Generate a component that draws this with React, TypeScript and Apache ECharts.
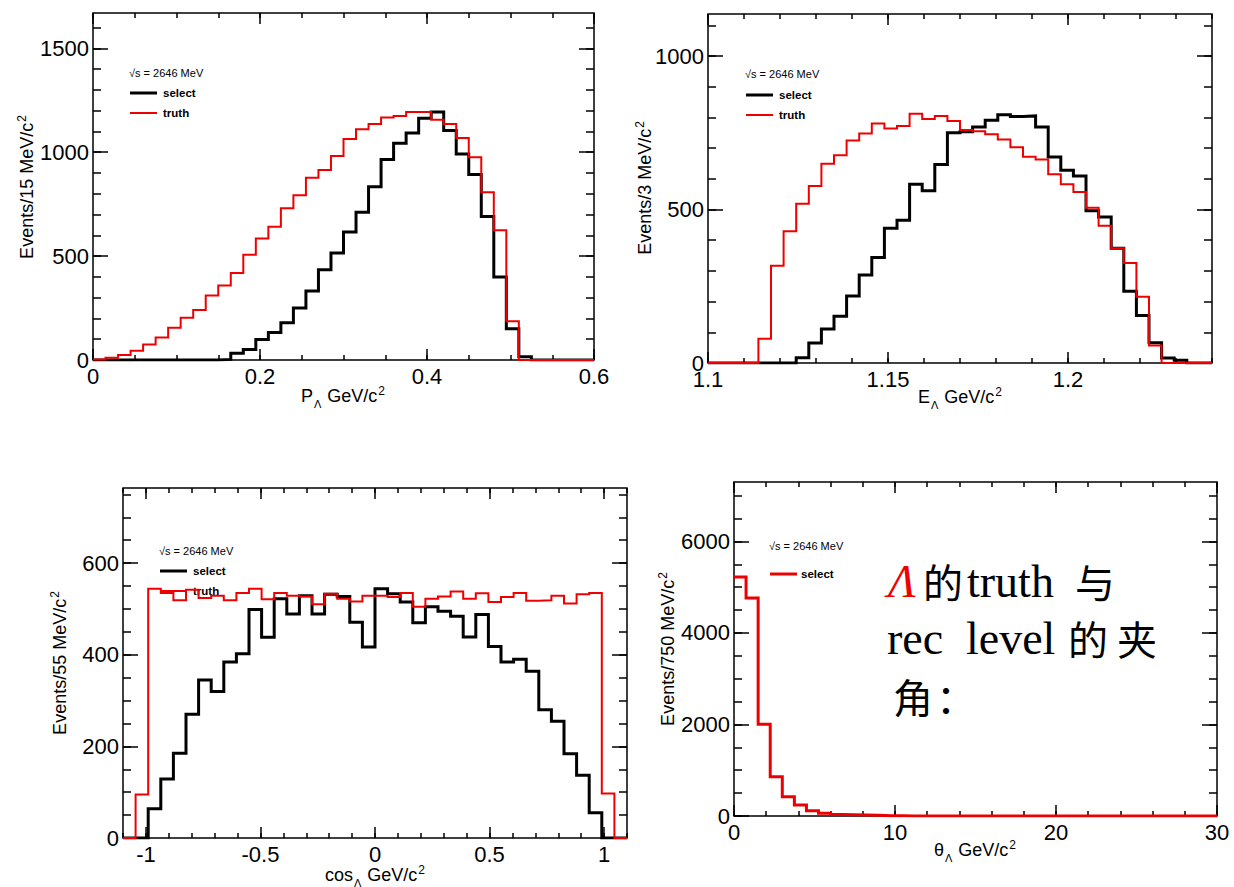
import React, { useEffect, useRef } from "react";
import * as echarts from "echarts";

// ---------------- data ----------------
const SERIES_NAMES = ["select", "truth"];
const ENERGY_LABEL = "√s = 2646 MeV";

// Panel 1 : P_Lambda
const P_RANGE = [0, 0.6];
const P_BIN_WIDTH = 0.015;
const P_SELECT = [0, 0, 0, 0, 0, 0, 0, 0, 0, 0, 3, 32, 51, 99, 132, 179, 250, 332, 434, 515, 616, 711, 834, 965, 1043, 1092, 1164, 1193, 1105, 992, 893, 691, 399, 150, 16, 0, 0, 0, 0, 0];
const P_TRUTH = [3, 11, 24, 45, 75, 108, 155, 203, 241, 311, 359, 419, 506, 585, 641, 730, 793, 877, 914, 982, 1064, 1110, 1136, 1167, 1174, 1193, 1193, 1156, 1136, 1069, 976, 807, 624, 187, 0, 0, 0, 0, 0, 0];
const P_X_TICKS = [0, 0.2, 0.4, 0.6];
const P_Y_TICKS = [0, 500, 1000, 1500];
const P_Y_MAX = 1670;

// Panel 2 : E_Lambda
const E_RANGE = [1.1, 1.24];
const E_BIN_WIDTH = 0.0035;
const E_SELECT = [0, 0, 0, 0, 0, 0, 0, 17, 65, 111, 152, 218, 287, 344, 439, 465, 582, 561, 647, 750, 753, 769, 791, 809, 803, 805, 769, 671, 628, 609, 496, 476, 374, 234, 155, 66, 16, 9, 0, 0];
const E_TRUTH = [0, 0, 0, 0, 79, 317, 429, 519, 577, 649, 677, 725, 748, 780, 764, 772, 812, 795, 805, 788, 759, 755, 745, 728, 703, 672, 663, 615, 582, 557, 506, 447, 374, 326, 216, 57, 0, 0, 0, 0];
const E_X_TICKS = [1.1, 1.15, 1.2];
const E_Y_TICKS = [0, 500, 1000];
const E_Y_MAX = 1137;

// Panel 3 : cos_Lambda
const C_RANGE = [-1.1, 1.1];
const C_BIN_WIDTH = 0.055;
const C_SELECT = [0, 0, 64, 129, 185, 270, 345, 320, 384, 402, 499, 438, 522, 489, 529, 489, 532, 527, 471, 417, 544, 533, 515, 470, 505, 495, 484, 439, 488, 418, 384, 390, 364, 280, 255, 184, 137, 55, 0, 0];
const C_TRUTH = [0, 95, 544, 535, 519, 542, 524, 529, 519, 535, 544, 521, 535, 529, 527, 510, 533, 522, 516, 529, 529, 526, 535, 505, 522, 527, 538, 522, 534, 515, 526, 535, 518, 519, 529, 512, 532, 535, 97, 0];
const C_X_TICKS = [-1, -0.5, 0, 0.5, 1];
const C_Y_TICKS = [0, 200, 400, 600];
const C_Y_MAX = 764;

// Panel 4 : theta_Lambda
const T_RANGE = [0, 30];
const T_BIN_WIDTH = 0.75;
const T_SELECT = [5222, 4764, 2007, 858, 422, 240, 116, 60, 35, 28, 22, 15, 8, 5, 0, 0, 0, 0, 0, 0, 0, 0, 0, 0, 0, 0, 0, 0, 0, 0, 0, 0, 0, 0, 0, 0, 0, 0, 0, 0];
const T_X_TICKS = [0, 10, 20, 30];
const T_Y_TICKS = [0, 2000, 4000, 6000];
const T_Y_MAX = 7300;

// ---------------- styling ----------------
const FONT = "'Liberation Sans', Arial, Helvetica, sans-serif";
const SERIF = "'Liberation Serif', 'DejaVu Serif', serif";
const CJK = "'Noto Sans CJK SC', 'Noto Sans CJK JP', sans-serif";
const RED = "#ee0000";
const BLACK = "#000000";

function stepTicks(min: number, max: number, step: number) {
  const out: number[] = [];
  const start = Math.ceil(min / step - 1e-9);
  const end = Math.floor(max / step + 1e-9);
  for (let k = start; k <= end; k++) out.push(+(k * step).toFixed(6));
  return out;
}

function histData(min: number, width: number, values: number[]) {
  const pts: number[][] = values.map((v, i) => [+(min + i * width).toFixed(6), v]);
  pts.push([+(min + values.length * width).toFixed(6), values[values.length - 1]]);
  return pts;
}

type Hist = { name: string; values: number[]; color: string; width: number };
type Panel = {
  grid: { left: number; top: number; width: number; height: number };
  range: number[];
  bin: number;
  xTicks: number[];
  xMinor: number;
  yTicks: number[];
  yMax: number;
  yMinor: number;
  hists: Hist[];
  xTitle: string;
  xTitlePos: number[];
  yTitle: string;
  yTitlePos: number[];
  legend: { x: number; y: number; textX: number; rows: { name: string; color: string; width: number; dy: number }[] };
};

const PANELS: Panel[] = [
  {
    grid: { left: 93, top: 13, width: 501, height: 347 },
    range: P_RANGE, bin: P_BIN_WIDTH, xTicks: P_X_TICKS, xMinor: 0.05,
    yTicks: P_Y_TICKS, yMax: P_Y_MAX, yMinor: 100,
    hists: [
      { name: SERIES_NAMES[0], values: P_SELECT, color: BLACK, width: 3 },
      { name: SERIES_NAMES[1], values: P_TRUTH, color: RED, width: 2 },
    ],
    xTitle: "P{sub|Λ} GeV/c{sup|2}", xTitlePos: [343, 396],
    yTitle: "Events/15 MeV/c{sup|2}", yTitlePos: [27, 187],
    legend: { x: 129, y: 73, textX: 163, rows: [
      { name: SERIES_NAMES[0], color: BLACK, width: 3, dy: 20 },
      { name: SERIES_NAMES[1], color: RED, width: 2, dy: 40 },
    ] },
  },
  {
    grid: { left: 708, top: 14, width: 504, height: 349 },
    range: E_RANGE, bin: E_BIN_WIDTH, xTicks: E_X_TICKS, xMinor: 0.01,
    yTicks: E_Y_TICKS, yMax: E_Y_MAX, yMinor: 100,
    hists: [
      { name: SERIES_NAMES[0], values: E_SELECT, color: BLACK, width: 3 },
      { name: SERIES_NAMES[1], values: E_TRUTH, color: RED, width: 2 },
    ],
    xTitle: "E{sub|Λ} GeV/c{sup|2}", xTitlePos: [960, 397],
    yTitle: "Events/3 MeV/c{sup|2}", yTitlePos: [645, 188],
    legend: { x: 745, y: 74, textX: 779, rows: [
      { name: SERIES_NAMES[0], color: BLACK, width: 3, dy: 21 },
      { name: SERIES_NAMES[1], color: RED, width: 2, dy: 41 },
    ] },
  },
  {
    grid: { left: 123, top: 488, width: 504, height: 350 },
    range: C_RANGE, bin: C_BIN_WIDTH, xTicks: C_X_TICKS, xMinor: 0.1,
    yTicks: C_Y_TICKS, yMax: C_Y_MAX, yMinor: 50,
    hists: [
      { name: SERIES_NAMES[0], values: C_SELECT, color: BLACK, width: 3 },
      { name: SERIES_NAMES[1], values: C_TRUTH, color: RED, width: 2 },
    ],
    xTitle: "cos{sub|Λ} GeV/c{sup|2}", xTitlePos: [375, 875],
    yTitle: "Events/55 MeV/c{sup|2}", yTitlePos: [60, 663],
    legend: { x: 159, y: 551, textX: 193, rows: [
      { name: SERIES_NAMES[0], color: BLACK, width: 3, dy: 20 },
      { name: SERIES_NAMES[1], color: RED, width: 2, dy: 40 },
    ] },
  },
  {
    grid: { left: 734, top: 482, width: 483, height: 334 },
    range: T_RANGE, bin: T_BIN_WIDTH, xTicks: T_X_TICKS, xMinor: 2,
    yTicks: T_Y_TICKS, yMax: T_Y_MAX, yMinor: 500,
    hists: [
      { name: SERIES_NAMES[0], values: T_SELECT, color: RED, width: 3 },
    ],
    xTitle: "θ{sub|Λ} GeV/c{sup|2}", xTitlePos: [975, 850],
    yTitle: "Events/750 MeV/c{sup|2}", yTitlePos: [668, 649],
    legend: { x: 769, y: 546, textX: 801, rows: [
      { name: SERIES_NAMES[0], color: RED, width: 3, dy: 28 },
    ] },
  },
];

const TICK_LINE = { color: BLACK, width: 1.5 };
const LABEL_STYLE = { color: BLACK, fontSize: 22, fontFamily: FONT };
const TITLE_RICH = {
  sub: { fontSize: 11, fontFamily: FONT, fill: BLACK, padding: [15, 1, 0, 1] },
  sup: { fontSize: 12, fontFamily: FONT, fill: BLACK, padding: [0, 0, 11, 1] },
};

function buildOption() {
  const grid: any[] = [];
  const xAxis: any[] = [];
  const yAxis: any[] = [];
  const series: any[] = [];
  const graphic: any[] = [];

  PANELS.forEach((p, gi) => {
    grid.push({
      ...p.grid,
      show: true,
      borderColor: BLACK,
      borderWidth: 1.5,
      backgroundColor: "transparent",
      containLabel: false,
      outerBoundsMode: "none",
    });
    const [xmin, xmax] = p.range;
    const xMinors = stepTicks(xmin, xmax, p.xMinor);
    const yMinors = stepTicks(0, p.yMax, p.yMinor);
    const xBase = { type: "value", gridIndex: gi, min: xmin, max: xmax, splitLine: { show: false }, axisLine: { show: false, onZero: false } };
    const yBase = { type: "value", gridIndex: gi, min: 0, max: p.yMax, splitLine: { show: false }, axisLine: { show: false, onZero: false } };
    const xMainIndex = xAxis.length;
    xAxis.push(
      { ...xBase, position: "bottom", axisTick: { show: true, inside: true, length: 11, customValues: p.xTicks, lineStyle: TICK_LINE },
        axisLabel: { show: true, customValues: p.xTicks, formatter: (v: number) => String(v), margin: 5, ...LABEL_STYLE } },
      { ...xBase, position: "bottom", axisTick: { show: true, inside: true, length: 5, customValues: xMinors, lineStyle: TICK_LINE }, axisLabel: { show: false } },
      { ...xBase, position: "top", axisTick: { show: true, inside: true, length: 11, customValues: p.xTicks, lineStyle: TICK_LINE }, axisLabel: { show: false } },
      { ...xBase, position: "top", axisTick: { show: true, inside: true, length: 5, customValues: xMinors, lineStyle: TICK_LINE }, axisLabel: { show: false } },
    );
    const yMainIndex = yAxis.length;
    yAxis.push(
      { ...yBase, position: "left", axisTick: { show: true, inside: true, length: 15, customValues: p.yTicks, lineStyle: TICK_LINE },
        axisLabel: { show: true, customValues: p.yTicks, formatter: (v: number) => String(v), margin: 4, ...LABEL_STYLE } },
      { ...yBase, position: "left", axisTick: { show: true, inside: true, length: 8, customValues: yMinors, lineStyle: TICK_LINE }, axisLabel: { show: false } },
      { ...yBase, position: "right", axisTick: { show: true, inside: true, length: 15, customValues: p.yTicks, lineStyle: TICK_LINE }, axisLabel: { show: false } },
      { ...yBase, position: "right", axisTick: { show: true, inside: true, length: 8, customValues: yMinors, lineStyle: TICK_LINE }, axisLabel: { show: false } },
    );

    p.hists.forEach((h) => {
      series.push({
        type: "line",
        name: h.name,
        xAxisIndex: xMainIndex,
        yAxisIndex: yMainIndex,
        step: "end",
        symbol: "none",
        showSymbol: false,
        data: histData(xmin, p.bin, h.values),
        lineStyle: { color: h.color, width: h.width, cap: "butt", join: "miter" },
        itemStyle: { color: h.color },
        emphasis: { disabled: true },
        silent: true,
      });
    });

    // axis titles
    graphic.push({
      type: "text",
      x: p.xTitlePos[0],
      y: p.xTitlePos[1],
      silent: true,
      style: {
        text: p.xTitle,
        fontSize: 18,
        fontFamily: FONT,
        fill: BLACK,
        align: "center",
        verticalAlign: "middle",
        rich: TITLE_RICH,
      },
    });
    graphic.push({
      type: "text",
      x: p.yTitlePos[0],
      y: p.yTitlePos[1],
      rotation: Math.PI / 2,
      silent: true,
      style: {
        text: p.yTitle,
        fontSize: 18,
        fontFamily: FONT,
        fill: BLACK,
        align: "center",
        verticalAlign: "middle",
        rich: TITLE_RICH,
      },
    });

    // legend box (ROOT TLegend, no border)
    const lg = p.legend;
    graphic.push({
      type: "text",
      x: lg.x,
      y: lg.y,
      silent: true,
      style: { text: ENERGY_LABEL, fontSize: 11, fontFamily: FONT, fill: BLACK, align: "left", verticalAlign: "middle" },
    });
    lg.rows.forEach((r) => {
      graphic.push({
        type: "line",
        silent: true,
        shape: { x1: lg.x + 1, y1: lg.y + r.dy, x2: lg.x + 28, y2: lg.y + r.dy },
        style: { stroke: r.color, lineWidth: r.width },
      });
      graphic.push({
        type: "text",
        x: lg.textX,
        y: lg.y + r.dy,
        silent: true,
        style: { text: r.name, fontSize: 11.5, fontWeight: "bold", fontFamily: FONT, fill: BLACK, align: "left", verticalAlign: "middle" },
      });
    });
  });

  // annotation inside the 4th panel
  const note = [
    { text: "Λ", x: 888, y: 581, font: SERIF, size: 46, color: RED, italic: true },
    { text: "的", x: 923, y: 581, font: CJK, size: 40, color: BLACK },
    { text: "truth", x: 967, y: 581, font: SERIF, size: 46, color: BLACK },
    { text: "与", x: 1075, y: 581, font: CJK, size: 40, color: BLACK },
    { text: "rec", x: 887, y: 638, font: SERIF, size: 46, color: BLACK },
    { text: "level", x: 966, y: 638, font: SERIF, size: 46, color: BLACK },
    { text: "的", x: 1068, y: 638, font: CJK, size: 40, color: BLACK },
    { text: "夹", x: 1117, y: 638, font: CJK, size: 40, color: BLACK },
    { text: "角", x: 893, y: 696, font: CJK, size: 40, color: BLACK },
    { text: "：", x: 936, y: 696, font: CJK, size: 40, color: BLACK },
  ];
  note.forEach((n) => {
    graphic.push({
      type: "text",
      x: n.x,
      y: n.y,
      silent: true,
      style: {
        text: n.text,
        fontSize: n.size,
        fontFamily: n.font,
        fontStyle: n.italic ? "italic" : "normal",
        fill: n.color,
        align: "left",
        verticalAlign: "middle",
      },
    });
  });

  return {
    animation: false,
    backgroundColor: "#ffffff",
    grid,
    xAxis,
    yAxis,
    series,
    graphic,
  };
}

export default function App() {
  const ref = useRef<HTMLDivElement>(null);
  useEffect(() => {
    document.body.style.margin = "0";
    const chart = echarts.init(ref.current as HTMLDivElement, null, { renderer: "svg" });
    chart.setOption(buildOption() as any);
    return () => chart.dispose();
  }, []);
  return <div ref={ref} style={{ width: 1234, height: 887, background: "#ffffff" }} />;
}
